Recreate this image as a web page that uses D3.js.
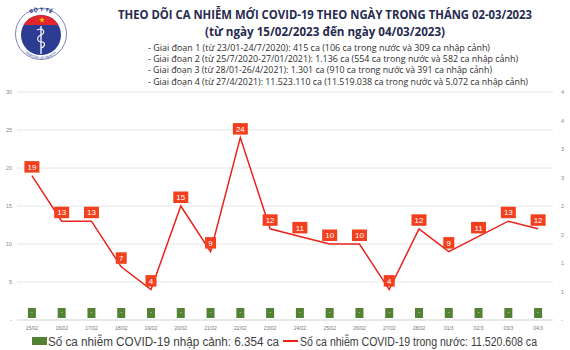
<!DOCTYPE html>
<html><head><meta charset="utf-8">
<script src="https://cdn.jsdelivr.net/npm/d3@7"></script>
<style>body{margin:0;background:#fff}svg{display:block}</style>
</head><body>
<svg id="c" width="570" height="350"></svg>
<script>
const categories = ["15/02","16/02","17/02","18/02","19/02","20/02","21/02","22/02","23/02","24/02","25/02","26/02","27/02","28/02","01/3","02/3","03/3","04/3"];
const domesticCases = [19,13,13,7,4,15,9,24,12,11,10,10,4,12,9,11,13,12];
const importedCases = [0,0,0,0,0,0,0,0,0,0,0,0,0,0,0,0,0,0];
const leftTicks = [0,5,10,15,20,25,30];
const rightTicks = [0,0.5,1,1.5,2,2.5,3,3.5,4];
const titleText = "THEO DÕI CA NHIỄM MỚI COVID-19 THEO NGÀY TRONG THÁNG 02-03/2023";
const subtitleText = "(từ ngày 15/02/2023 đến ngày 04/03/2023)";
const bulletLines = [
 "- Giai đoạn 1 (từ 23/01-24/7/2020): 415 ca (106 ca trong nước và 309 ca nhập cảnh)",
 "- Giai đoạn 2 (từ 25/7/2020-27/01/2021): 1.136 ca (554 ca trong nước và 582 ca nhập cảnh)",
 "- Giai đoạn 3 (từ 28/01-26/4/2021): 1.301 ca (910 ca trong nước và 391 ca nhập cảnh)",
 "- Giai đoạn 4 (từ 27/4/2021): 11.523.110 ca (11.519.038 ca trong nước và 5.072 ca nhập cảnh)"
];
const bulletWidths = [342,370,344,380];
const legendLabels = ["Số ca nhiễm COVID-19 nhập cảnh: 6.354 ca","Số ca nhiễm COVID-19 trong nước: 11.520.608 ca"];

const svg = d3.select("#c");
const x = d3.scaleBand().domain(categories).range([17,553]);
const yL = d3.scaleLinear().domain([0,30]).range([320,92]);
const yR = d3.scaleLinear().domain([0,4]).range([320,92]);
const cx = c => x(c) + x.bandwidth()/2;

// Logo
const logo = svg.append("g");
logo.append("circle").attr("cx",41).attr("cy",34).attr("r",25.5).attr("fill","#fff").attr("stroke","#7d86b8").attr("stroke-width",1);
logo.append("clipPath").attr("id","ic").append("circle").attr("cx",41).attr("cy",35).attr("r",20);
logo.append("circle").attr("cx",41).attr("cy",35).attr("r",20).attr("fill","#2b3c92");
logo.append("rect").attr("x",20).attr("y",14).attr("width",42).attr("height",11).attr("fill","#e3262d").attr("clip-path","url(#ic)");
logo.append("path").attr("d",d3.symbol(d3.symbolStar,10)()).attr("transform","translate(42,20)").attr("fill","#ffd200");
logo.append("line").attr("x1",41).attr("x2",41).attr("y1",26).attr("y2",54).attr("stroke","#fff").attr("stroke-width",1.3);
logo.append("path").attr("d","M37,30 C44,27 46,33 41,35 C36,37 37,42 42,42 C46,42 45,47 41,48").attr("fill","none").attr("stroke","#fff").attr("stroke-width",1.1);
logo.append("path").attr("id","arcTop").attr("d","M18,34 A23,23 0 0 1 64,34").attr("fill","none");
logo.append("path").attr("id","arcBot").attr("d","M18,36 A23,23 0 0 0 64,36").attr("fill","none");
logo.append("text").attr("font-family","DejaVu Sans").attr("font-size",5).attr("font-weight","bold").attr("fill","#2b3c92")
 .append("textPath").attr("href","#arcTop").attr("startOffset","50%").attr("text-anchor","middle").text("BỘ Y TẾ");
logo.append("text").attr("font-family","DejaVu Sans").attr("font-size",3.2).attr("fill","#2b3c92")
 .append("textPath").attr("href","#arcBot").attr("startOffset","50%").attr("text-anchor","middle").text("MINISTRY OF HEALTH");

// Title
svg.append("text").attr("x",325).attr("y",19).attr("text-anchor","middle")
 .attr("font-family","Open Sans").attr("font-weight","bold").attr("font-size",12).attr("fill","#262b4f")
 .attr("textLength",414).attr("lengthAdjust","spacingAndGlyphs").text(titleText);
svg.append("text").attr("x",325).attr("y",36).attr("text-anchor","middle")
 .attr("font-family","Open Sans").attr("font-weight","bold").attr("font-size",12).attr("fill","#262b4f")
 .attr("textLength",240).attr("lengthAdjust","spacingAndGlyphs").text(subtitleText);
svg.selectAll("text.bl").data(bulletLines).join("text").attr("class","bl")
 .attr("x",148).attr("y",(d,i)=>51+i*11.2)
 .attr("font-family","Open Sans").attr("font-size",8.8).attr("fill","#2e2e2e")
 .attr("textLength",(d,i)=>bulletWidths[i]).attr("lengthAdjust","spacingAndGlyphs").text(d=>d);

// Gridlines
svg.append("g").selectAll("line").data(leftTicks).join("line")
 .attr("x1",17).attr("x2",553).attr("y1",d=>yL(d)).attr("y2",d=>yL(d))
 .attr("stroke",d=>d===0?"#d0d0d0":"#e6e6e6").attr("stroke-width",1);

// Left axis
const axL = svg.append("g").attr("transform","translate(12,0)")
 .call(d3.axisLeft(yL).tickValues(leftTicks).tickSize(0).tickFormat(d=>d===0?"-":d));
axL.select(".domain").remove();
axL.selectAll("text").attr("font-family","Liberation Sans").attr("font-size",5.5).attr("fill","#888").attr("x",0).attr("text-anchor","end");

// Right axis
const axR = svg.append("g").attr("transform","translate(561,0)")
 .call(d3.axisRight(yR).tickValues(rightTicks).tickSize(0).tickFormat(d=>d===0?"-":Math.round(d+0.001)));
axR.select(".domain").remove();
axR.selectAll("text").attr("font-family","Liberation Sans").attr("font-size",5.5).attr("fill","#888").attr("x",0);

// X axis labels
const axX = svg.append("g").attr("transform","translate(0,324)")
 .call(d3.axisBottom(x).tickSize(0));
axX.select(".domain").remove();
axX.selectAll("text").attr("font-family","Liberation Sans").attr("font-size",5).attr("fill","#777").attr("dy","0.5em");

// Imported (zero) labels as green boxes
const gb = svg.append("g").selectAll("g").data(categories).join("g")
 .attr("transform",(d,i)=>`translate(${cx(d)},${yR(importedCases[i])})`);
gb.append("rect").attr("x",-4).attr("y",-12).attr("width",8).attr("height",10).attr("fill","#548235");
gb.append("text").attr("y",-6).attr("text-anchor","middle").attr("font-size",5).attr("fill","#fff").attr("font-family","Liberation Sans").text("-");

// Domestic line
svg.append("path").datum(domesticCases)
 .attr("d",d3.line().x((d,i)=>cx(categories[i])).y(d=>yL(d)))
 .attr("fill","none").attr("stroke","#e8221c").attr("stroke-width",1.5).attr("stroke-linejoin","miter");

// Labels
const lb = svg.append("g").selectAll("g").data(domesticCases).join("g")
 .attr("transform",(d,i)=>`translate(${cx(categories[i])},${yL(d)-3})`);
lb.append("rect").attr("x",d=>d>=10?-7.5:-5.5).attr("y",-11.5).attr("width",d=>d>=10?15:11).attr("height",11.5).attr("fill","#f2401f");
lb.append("text").attr("y",-2.9).attr("text-anchor","middle").attr("font-family","Liberation Sans").attr("font-size",8).attr("fill","#fff").text(d=>d);

// Legend
svg.append("rect").attr("x",32).attr("y",337).attr("width",15).attr("height",8).attr("fill","#548235");
svg.append("text").attr("x",48).attr("y",346).attr("font-family","Liberation Sans").attr("font-size",12).attr("fill","#404040")
 .attr("textLength",231).attr("lengthAdjust","spacingAndGlyphs").text(legendLabels[0]);
svg.append("line").attr("x1",283).attr("x2",298).attr("y1",341).attr("y2",341).attr("stroke","#e8221c").attr("stroke-width",2);
svg.append("text").attr("x",300).attr("y",346).attr("font-family","Liberation Sans").attr("font-size",12).attr("fill","#404040")
 .attr("textLength",237).attr("lengthAdjust","spacingAndGlyphs").text(legendLabels[1]);
</script>
</body></html>
